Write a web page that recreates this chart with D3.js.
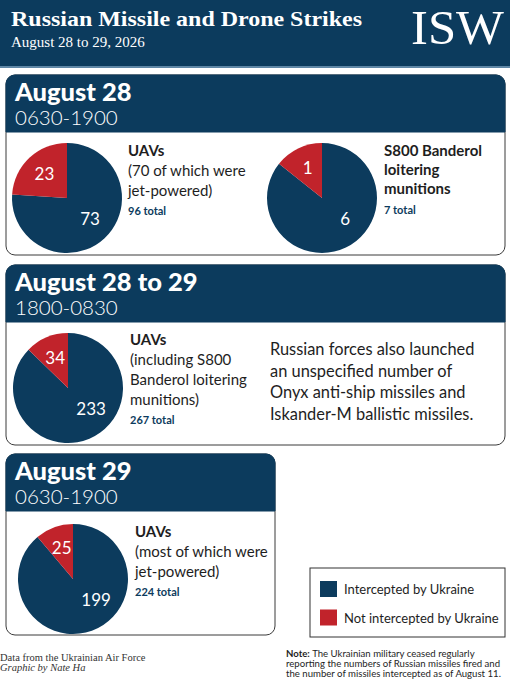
<!DOCTYPE html>
<html><head><meta charset="utf-8">
<script src="https://cdn.jsdelivr.net/npm/d3@7"></script>
<style>body{margin:0;background:#fff}svg{display:block}</style>
</head><body><svg id="c" width="510" height="680"></svg>
<script>
// ---- data ----
const title = "Russian Missile and Drone Strikes";
const subtitle = "August 28 to 29, 2026";
const logoText = "ISW";
const sectionDates = ["August 28", "August 28 to 29", "August 29"];
const sectionTimes = ["0630-1900", "1800-0830", "0630-1900"];
const pieSection = [0, 0, 1, 2];
const pieTitleLines = [["UAVs"], ["S800 Banderol", "loitering", "munitions"], ["UAVs"], ["UAVs"]];
const pieNoteLines = [["(70 of which were", "jet-powered)"], [], ["(including S800", "Banderol loitering", "munitions)"], ["(most of which were", "jet-powered)"]];
const intercepted = [73, 6, 233, 199];
const notIntercepted = [23, 1, 34, 25];
const seriesNames = ["Intercepted by Ukraine", "Not intercepted by Ukraine"];
const extraText = ["Russian forces also launched", "an unspecified number of", "Onyx anti-ship missiles and", "Iskander-M ballistic missiles."];
const sourceLines = ["Data from the Ukrainian Air Force", "Graphic by Nate Ha"];
const noteLines = ["The Ukrainian military ceased regularly", "reporting the numbers of Russian missiles fired and", "the number of missiles intercepted as of August 11."];

// ---- style / layout ----
const NAVY = "#0c3b5d", RED = "#c1232b", INK = "#1e1e1e";
const SANS = "Lato, 'Noto Sans', sans-serif";
const SERIF = "'Liberation Serif', 'DejaVu Serif', serif";
const svg = d3.select("#c");
const colour = d3.scaleOrdinal().domain(seriesNames).range([NAVY, RED]);

// top banner
svg.append("rect").attr("x", 0).attr("y", 0).attr("width", 510).attr("height", 66).attr("fill", NAVY);
svg.append("rect").attr("x", 0).attr("y", 66).attr("width", 510).attr("height", 2).attr("fill", "#5f87a6");
svg.append("text").attr("x", 11).attr("y", 26).attr("fill", "#fff")
  .style("font-family", SERIF).style("font-weight", 700).style("font-size", "21.5px")
  .attr("textLength", 351).attr("lengthAdjust", "spacingAndGlyphs").text(title);
svg.append("text").attr("x", 11).attr("y", 47).attr("fill", "#fff")
  .style("font-family", SERIF).style("font-size", "15px").text(subtitle);
svg.append("text").attr("x", 411).attr("y", 44).attr("fill", "#fff")
  .style("font-family", SERIF).style("font-size", "49px")
  .attr("textLength", 93).attr("lengthAdjust", "spacingAndGlyphs").text(logoText);

// panels
const panelBox = [
  {x: 6, y: 75, w: 499, h: 180},
  {x: 6, y: 265, w: 499, h: 180},
  {x: 6, y: 454, w: 269, h: 181}
];
const headH = 57, rad = 9;
sectionDates.forEach((d, i) => {
  const b = panelBox[i];
  const g = svg.append("g");
  g.append("rect").attr("x", b.x).attr("y", b.y).attr("width", b.w).attr("height", b.h)
    .attr("rx", rad).attr("fill", "#fff").attr("stroke", "#3a3a3a").attr("stroke-width", 1);
  const p = d3.path();
  p.moveTo(b.x, b.y + headH);
  p.lineTo(b.x, b.y + rad);
  p.arcTo(b.x, b.y, b.x + rad, b.y, rad);
  p.lineTo(b.x + b.w - rad, b.y);
  p.arcTo(b.x + b.w, b.y, b.x + b.w, b.y + rad, rad);
  p.lineTo(b.x + b.w, b.y + headH);
  p.closePath();
  g.append("path").attr("d", p.toString()).attr("fill", NAVY).attr("stroke", NAVY).attr("stroke-width", 1);
  g.append("text").attr("x", b.x + 9).attr("y", b.y + 26).attr("fill", "#fff")
    .style("font-family", SANS).style("font-weight", 900).style("font-size", "25.5px").text(d);
  g.append("text").attr("x", b.x + 9).attr("y", b.y + 50).attr("fill", "#fff")
    .style("font-family", SANS).style("font-weight", 300).style("font-size", "20.5px").text(sectionTimes[i]);
});

// pies
const pieCentres = [{x: 67, y: 198}, {x: 322, y: 198}, {x: 68, y: 388}, {x: 73, y: 579}];
const textPos = [{x: 128, y: 156}, {x: 384, y: 156}, {x: 130, y: 345}, {x: 135, y: 537}];
const R = 55;
const bigLabelAngle = 2.3;
const pie = d3.pie().sort(null).value(d => d.v);
const arc = d3.arc().innerRadius(0).outerRadius(R);
const labelArc = d3.arc().innerRadius(33).outerRadius(33);
const bigLabelArc = d3.arc().innerRadius(31).outerRadius(31);

intercepted.forEach((v, i) => {
  const data = [{k: seriesNames[0], v: v}, {k: seriesNames[1], v: notIntercepted[i]}];
  const c = pieCentres[i];
  const g = svg.append("g").attr("transform", `translate(${c.x},${c.y})`);
  const arcs = pie(data);
  g.selectAll("path").data(arcs).join("path").attr("d", arc).attr("fill", d => colour(d.data.k));
  g.selectAll("text").data(arcs).join("text")
    .attr("transform", (d, j) => {
      const pt = j === 0 ? bigLabelArc.centroid({startAngle: bigLabelAngle, endAngle: bigLabelAngle})
                         : labelArc.centroid(d);
      return `translate(${pt})`;
    })
    .attr("text-anchor", "middle").attr("dy", "0.36em").attr("fill", "#fff")
    .style("font-family", SANS).style("font-weight", 400).style("font-size", "17px")
    .text(d => d.data.v);

  const t = textPos[i];
  const tg = svg.append("g").style("font-family", SANS).attr("fill", INK);
  let y = t.y;
  pieTitleLines[i].forEach((l, j) => {
    tg.append("text").attr("x", t.x).attr("y", y).style("font-weight", 700).style("font-size", "15px").text(l);
    y += 19;
  });
  y += 1;
  pieNoteLines[i].forEach(l => {
    tg.append("text").attr("x", t.x).attr("y", y).style("font-size", "15px").text(l);
    y += 20;
  });
  if (pieNoteLines[i].length === 0) y += 1;
  tg.append("text").attr("x", t.x).attr("y", y - 1).attr("fill", NAVY)
    .style("font-weight", 700).style("font-size", "11px").text(`${d3.sum(data, d => d.v)} total`);
});

// extra text in second panel
extraText.forEach((l, j) => {
  svg.append("text").attr("x", 270).attr("y", 355 + j * 21.7).attr("fill", INK)
    .style("font-family", SANS).style("font-size", "16.4px").text(l);
});

// legend
const lg = svg.append("g");
lg.append("rect").attr("x", 310).attr("y", 568).attr("width", 195).attr("height", 69)
  .attr("fill", "#fff").attr("stroke", "#333").attr("stroke-width", 1);
seriesNames.forEach((s, j) => {
  lg.append("rect").attr("x", 320).attr("y", 581 + j * 28.5).attr("width", 17).attr("height", 16).attr("fill", colour(s));
  lg.append("text").attr("x", 344).attr("y", 594 + j * 28.5).attr("fill", INK)
    .style("font-family", SANS).style("font-size", "13px").text(s);
});

// sources and note
sourceLines.forEach((l, j) => {
  svg.append("text").attr("x", 0).attr("y", 661 + j * 9.5).attr("fill", "#333")
    .style("font-family", SERIF).style("font-style", j === 1 ? "italic" : "normal").style("font-size", "10.5px").text(l);
});
const ng = svg.append("g").style("font-family", SANS).style("font-size", "9.6px").attr("fill", INK);
noteLines.forEach((l, j) => {
  const t = ng.append("text").attr("x", 286).attr("y", 657 + j * 10);
  if (j === 0) { t.append("tspan").style("font-weight", 700).text("Note: "); }
  t.append("tspan").text(l);
});
</script></body></html>
